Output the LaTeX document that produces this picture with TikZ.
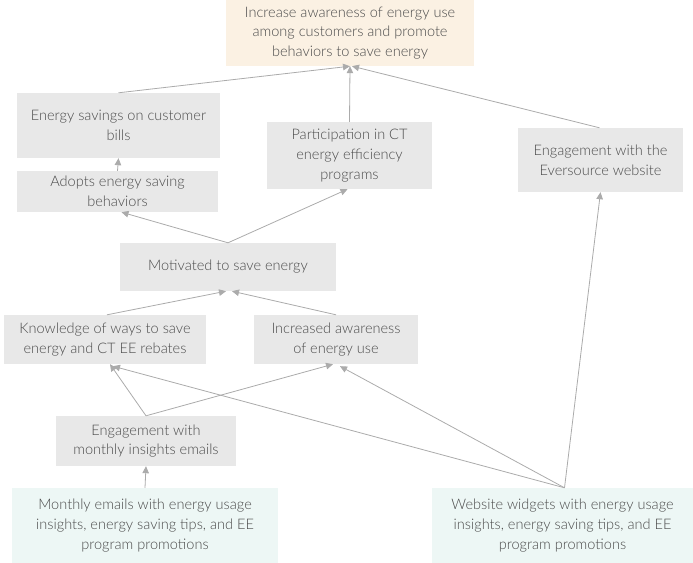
\documentclass[tikz,border=0pt]{standalone}
\usepackage{fontspec}
\setmainfont{Lato}[UprightFont={* Light}]
\usetikzlibrary{arrows.meta,calc}
\definecolor{boxgray}{HTML}{E8E8E8}
\definecolor{goalfill}{HTML}{FBF1E3}
\definecolor{inputfill}{HTML}{EDF7F5}
\definecolor{txtgray}{HTML}{4A4A4A}
\definecolor{linkgray}{HTML}{ABABAB}
\tikzset{
  x=1bp, y=-1bp,
  box/.style={fill=boxgray, text=txtgray, align=center, inner sep=0pt,
    font=\fontsize{14.6}{19.8}\selectfont},
  goal/.style={box, fill=goalfill},
  input/.style={box, fill=inputfill},
  link/.style={draw=linkgray, line width=0.8bp,
    -{Triangle[length=7bp,width=6.5bp]}},
}
\newcommand{\boxat}[7][box]{% style, name, x1, y1, x2, y2, text
  \node[#1, minimum width={(#5-#3)*1bp}, minimum height={(#6-#4)*1bp}]
    (#2) at ({(#3+#5)/2}, {(#4+#6)/2}) {#7};}
\begin{document}
\begin{tikzpicture}
\useasboundingbox (0,0) rectangle (693,563);
% boxes
\boxat[goal]{goal}{226}{0}{474}{66}{Increase awareness of energy use\\among customers and promote\\behaviors to save energy}
\boxat{bills}{17}{93}{220}{158}{Energy savings on customer\\bills}
\boxat{adopt}{17}{171}{218}{212}{Adopts energy saving\\behaviors}
\boxat{part}{267}{122}{432}{189}{Participation in CT\\energy efficiency\\programs}
\boxat{web}{518}{128}{683}{192}{Engagement with the\\Eversource website}
\boxat{motiv}{120}{243}{336}{291}{Motivated to save energy}
\boxat{know}{4}{315}{206}{364}{Knowledge of ways to save\\energy and CT EE rebates}
\boxat{aware}{254}{315}{418}{364}{Increased awareness\\of energy use}
\boxat{emaileng}{56}{416}{236}{466}{Engagement with\\monthly insights emails}
\boxat[input]{emails}{12}{488}{278}{563}{Monthly emails with energy usage\\insights, energy saving tips, and EE\\program promotions}
\boxat[input]{widgets}{432}{488}{693}{563}{Website widgets with energy usage\\insights, energy saving tips, and EE\\program promotions}
% links
\draw[link] (bills.north) -- (goal.south);
\draw[link] (part.north) -- (goal.south);
\draw[link] ($(web.north)+(-1,0)$) -- ($(goal.south)+(2,0)$);
\draw[link] (adopt.north) -- (bills.south);
\draw[link] (motiv.north) -- ($(adopt.south)+(4,0)$);
\draw[link] (motiv.north) -- ($(part.south)+(-2,0)$);
\draw[link] ($(know.north)+(2,0)$) -- ($(motiv.south)+(-2,0)$);
\draw[link] (aware.north) -- ($(motiv.south)+(4,0)$);
\draw[link] (emaileng.north) -- ($(know.south)+(5,0)$);
\draw[link] (emaileng.north) -- ($(aware.south)+(-3,0)$);
\draw[link] (emails.north) -- (emaileng.south);
\draw[link] ($(widgets.north)+(2,0)$) -- ($(know.south)+(8,2)$);
\draw[link] ($(widgets.north)+(2,0)$) -- ($(aware.south)+(4,2)$);
\draw[link] ($(widgets.north)+(2,0)$) -- (web.south);
\end{tikzpicture}
\end{document}
